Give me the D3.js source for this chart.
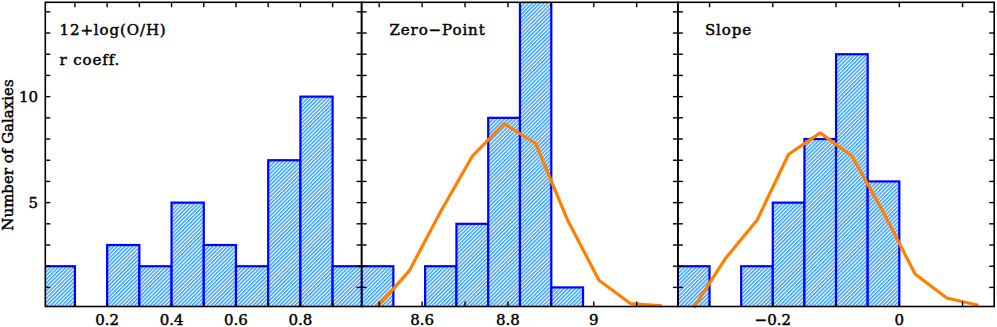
<!DOCTYPE html>
<html>
<head>
<meta charset="utf-8">
<script src="https://cdn.jsdelivr.net/npm/d3@7"></script>
<style>
  body { margin: 0; background: #fff; }
  svg { display: block; }
  text { font-family: "DejaVu Serif", serif; fill: #000; stroke: #000; stroke-width: 0.45px; }
</style>
</head>
<body>
<svg width="997" height="327"></svg>
<script>
// Histogram of r coefficient (left), zero-point (middle), slope (right)
const panelTitles = ["12+log(O/H)", "Zero\u2212Point", "Slope"];
const subTitle = "r coeff.";

const rEdges = [0.0, 0.1, 0.2, 0.3, 0.4, 0.5, 0.6, 0.7, 0.8, 0.9, 1.0];
const rCounts = [2, 0, 3, 2, 5, 3, 2, 7, 10, 2];

const zpEdges = [8.459, 8.533, 8.607, 8.680, 8.754, 8.828, 8.901, 8.975, 9.049, 9.122, 9.196];
const zpCounts = [2, 0, 2, 4, 9, 17, 1, 0, 0, 0];
const zpFit = [0.08, 1.78, 4.59, 7.19, 8.73, 7.79, 4.22, 1.34, 0.24, 0.13];

const slopeEdges = [-0.35, -0.30, -0.25, -0.20, -0.15, -0.10, -0.05, 0.0, 0.05, 0.10, 0.15];
const slopeCounts = [2, 0, 2, 5, 8, 12, 6, 0, 0, 0];
const slopeFit = [0.05, 2.36, 4.17, 7.28, 8.29, 7.2, 4.54, 1.63, 0.5, 0.16];

const xDomains = [[0.008, 0.99], [8.459, 9.196], [-0.35, 0.15]];
const xMinorTicks = [
    [0.1, 0.2, 0.3, 0.4, 0.5, 0.6, 0.7, 0.8, 0.9],
    [8.5, 8.6, 8.7, 8.8, 8.9, 9.0, 9.1],
    [-0.3, -0.2, -0.1, 0.0, 0.1]
];
const xTickLabels = [["0.2", "0.4", "0.6", "0.8"], ["8.6", "8.8", "9"], ["\u22120.2", "0"]];
const xTickValues = [[0.2, 0.4, 0.6, 0.8], [8.6, 8.8, 9.0], [-0.2, 0.0]];
const yTicks = [1, 2, 3, 4, 5, 6, 7, 8, 9, 10, 11, 12, 13, 14];
const yTickLabels = [5, 10];
const yTitle = "Number of Galaxies";

const panels = [
    { edges: rEdges, counts: rCounts, fit: null },
    { edges: zpEdges, counts: zpCounts, fit: zpFit },
    { edges: slopeEdges, counts: slopeCounts, fit: slopeFit }
];

const svg = d3.select("svg");
const left = 45.3, panelW = 316.3;
const plotTop = 2.3, plotBottom = 306.5;

const y = d3.scaleLinear().domain([0.1, 14.45]).range([plotBottom, plotTop]);

// hatch pattern
const defs = svg.append("defs");
defs.append("pattern")
    .attr("id", "hatch")
    .attr("patternUnits", "userSpaceOnUse")
    .attr("width", 2.7)
    .attr("height", 2.7)
    .attr("patternTransform", "rotate(45)")
    .call(p => {
        p.append("rect").attr("width", 2.7).attr("height", 2.7).attr("fill", "#fff");
        p.append("rect").attr("width", 1.45).attr("height", 2.7).attr("fill", "#2f9cfa");
    });

panels.forEach((p, i) => {
    const x0 = left + i * panelW;
    const x = d3.scaleLinear().domain(xDomains[i]).range([x0, x0 + panelW]);

    defs.append("clipPath").attr("id", "clip" + i)
        .append("rect")
        .attr("x", x0).attr("y", plotTop)
        .attr("width", panelW).attr("height", plotBottom - plotTop);

    const g = svg.append("g").attr("clip-path", `url(#clip${i})`);

    const bins = p.counts.map((c, k) => ({ x0: p.edges[k], x1: p.edges[k + 1], c }));

    g.selectAll("rect.bar")
        .data(bins.filter(d => d.c > 0))
        .enter().append("rect")
        .attr("class", "bar")
        .attr("x", d => x(d.x0))
        .attr("y", d => y(d.c))
        .attr("width", d => x(d.x1) - x(d.x0))
        .attr("height", d => y(0) - y(d.c))
        .attr("fill", "url(#hatch)")
        .attr("stroke", "#0000ff")
        .attr("stroke-width", 2.2);

    if (p.fit) {
        const centers = p.edges.slice(0, -1).map((e, k) => (e + p.edges[k + 1]) / 2);
        const line = d3.line()
            .x((d, k) => x(centers[k]))
            .y(d => y(d));
        svg.append("path")
            .attr("d", line(p.fit))
            .attr("fill", "none")
            .attr("stroke", "#ff8000")
            .attr("stroke-width", 3.2)
            .attr("stroke-linejoin", "round");
    }

    // frame
    svg.append("rect")
        .attr("x", x0).attr("y", plotTop)
        .attr("width", panelW).attr("height", plotBottom - plotTop)
        .attr("fill", "none")
        .attr("stroke", "#000")
        .attr("stroke-width", 1.6);

    // y ticks on both sides
    const tk = svg.append("g").attr("stroke", "#000").attr("stroke-width", 1.4);
    tk.selectAll(".yl").data(yTicks).enter().append("line")
        .attr("x1", x0).attr("x2", x0 + 5)
        .attr("y1", d => y(d)).attr("y2", d => y(d));
    tk.selectAll(".yr").data(yTicks).enter().append("line")
        .attr("x1", x0 + panelW).attr("x2", x0 + panelW - 5)
        .attr("y1", d => y(d)).attr("y2", d => y(d));
    // x ticks top and bottom
    tk.selectAll(".xb").data(xMinorTicks[i]).enter().append("line")
        .attr("x1", d => x(d)).attr("x2", d => x(d))
        .attr("y1", plotBottom).attr("y2", plotBottom - 5);
    tk.selectAll(".xt").data(xMinorTicks[i]).enter().append("line")
        .attr("x1", d => x(d)).attr("x2", d => x(d))
        .attr("y1", plotTop).attr("y2", plotTop + 5);

    // x labels
    svg.selectAll(".xlab" + i)
        .data(xTickValues[i])
        .enter().append("text")
        .attr("x", d => x(d))
        .attr("y", 324.5)
        .attr("text-anchor", "middle")
        .attr("font-size", 15)
        .text((d, k) => xTickLabels[i][k]);

    // panel title
    svg.append("text")
        .attr("x", x0 + (i === 0 ? 14.2 : i === 1 ? 27.9 : 27))
        .attr("y", 35)
        .attr("font-size", 15)
        .attr("letter-spacing", 0.9)
        .text(panelTitles[i]);
});

svg.append("text")
    .attr("x", 59.5)
    .attr("y", 65)
    .attr("font-size", 15)
    .attr("letter-spacing", 0.9)
    .text(subTitle);

// y labels
svg.selectAll(".ylab")
    .data(yTickLabels)
    .enter().append("text")
    .attr("x", 38)
    .attr("y", d => y(d) + 5.5)
    .attr("text-anchor", "end")
    .attr("font-size", 15)
    .text(d => d);

svg.append("text")
    .attr("transform", `translate(13,155) rotate(-90)`)
    .attr("text-anchor", "middle")
    .attr("font-size", 15)
    .text(yTitle);
</script>
</body>
</html>
